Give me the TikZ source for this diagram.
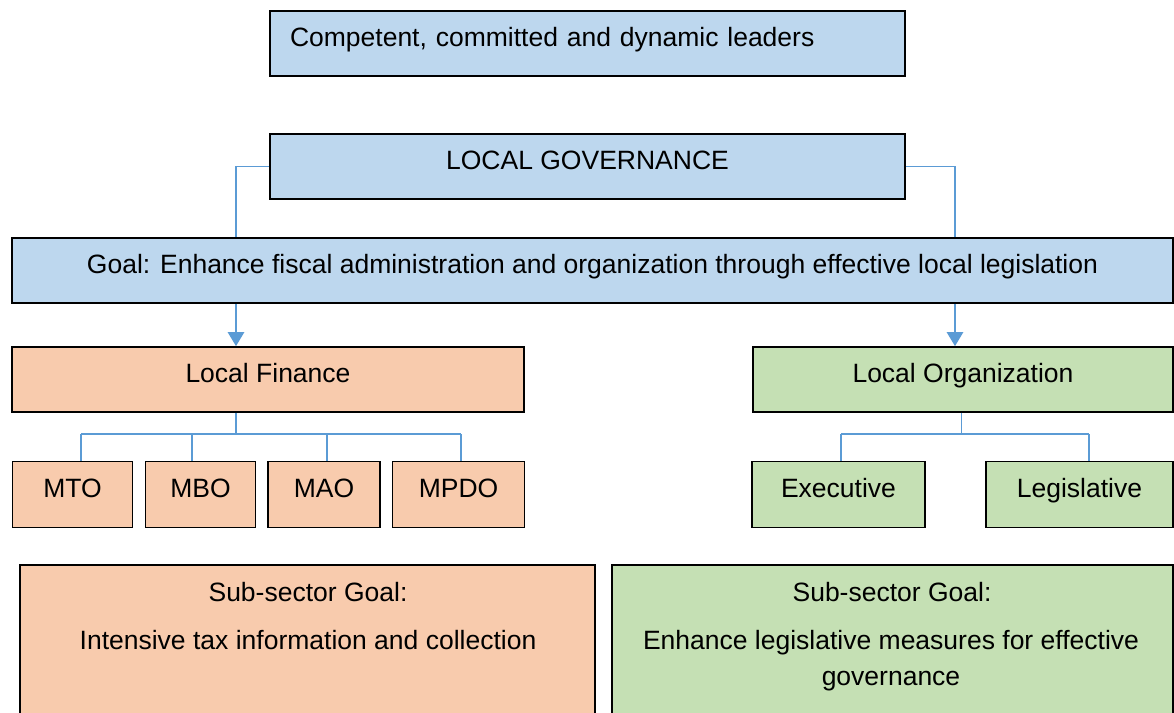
\documentclass[tikz,border=0pt]{standalone}
\usepackage{fontspec}
\setmainfont{Liberation Sans}
\usetikzlibrary{arrows.meta}
\definecolor{bluefill}{HTML}{BDD7EE}
\definecolor{orangefill}{HTML}{F8CBAD}
\definecolor{greenfill}{HTML}{C5E0B4}
\definecolor{linkblue}{HTML}{5B9BD5}
\begin{document}
\begin{tikzpicture}[x=1pt,y=-1pt,
  box/.style={draw=black, line width=1.6pt, inner sep=0pt, text height=0.7em, text depth=0.2em, font=\fontsize{26.5}{31}\selectfont},
  bbox/.style={box, fill=bluefill},
  obox/.style={box, fill=orangefill},
  gbox/.style={box, fill=greenfill},
  txt/.style={inner sep=0pt, text height=0.7em, text depth=0.2em, font=\fontsize{26.5}{36}\selectfont, align=center},
  link/.style={draw=linkblue, line width=1.3pt},
  arr/.style={draw=linkblue, line width=2.6pt, -{Triangle[width=16pt,length=14pt]}}]
\useasboundingbox (0,0) rectangle (1174,712);
% top row
\node[bbox, minimum width=635pt, minimum height=65pt, text width=595pt, inner xsep=20pt, align=left] (lead) at (587.5,43.5) {Competent, committed and dynamic leaders};
\node[bbox, minimum width=635pt, minimum height=65pt] (lg) at (587.5,166.5) {LOCAL GOVERNANCE};
\node[bbox, minimum width=1161pt, minimum height=65pt] (goal) at (592.5,270.5) {Goal: Enhance fiscal administration and organization through effective local legislation};
% second level
\node[obox, minimum width=512pt, minimum height=65pt] (lf) at (268,379.5) {Local Finance};
\node[gbox, minimum width=420pt, minimum height=65pt] (lo) at (963,379.5) {Local Organization};
% offices
\node[obox, minimum width=120pt, minimum height=66pt] (mto) at (72.5,494.5) {MTO};
\node[obox, minimum width=110pt, minimum height=66pt] (mbo) at (200.5,494.5) {MBO};
\node[obox, minimum width=112pt, minimum height=66pt] (mao) at (324,494.5) {MAO};
\node[obox, minimum width=132pt, minimum height=66pt] (mpdo) at (458.5,494.5) {MPDO};
\node[gbox, minimum width=173pt, minimum height=66pt] (exe) at (838.5,494.5) {Executive};
\node[gbox, minimum width=187pt, minimum height=66pt] (leg) at (1079.5,494.5) {Legislative};
% sub-sector goals
\node[obox, minimum width=575pt, minimum height=160pt] (lsub) at (307.5,645) {};
\node[gbox, minimum width=561pt, minimum height=160pt] (rsub) at (892.5,645) {};
\node[txt] (lsubh) at (308,599) {Sub-sector Goal:};
\node[txt] (lsubt) at (308,647) {Intensive tax information and collection};
\node[txt] (rsubh) at (892,599) {Sub-sector Goal:};
\node[inner sep=0pt, font=\fontsize{26.5}{36}\selectfont, align=center] (rsubt) at (891,661) {Enhance legislative measures for effective\\governance};
% connectors
\coordinate (gl) at (236,0);
\coordinate (gr) at (955,0);
\draw[link] (lg.west) -| (gl |- goal.north);
\draw[link] (lg.east) -| (gr |- goal.north);
\draw[arr] (gl |- goal.south) -- (gl |- lf.north);
\draw[arr] (gr |- goal.south) -- (gr |- lo.north);
% finance branches
\coordinate (fb) at (236,434);
\coordinate (f1) at (81,434);
\coordinate (f2) at (192,434);
\coordinate (f3) at (327,434);
\coordinate (f4) at (461,434);
\draw[link] (fb |- lf.south) -- (fb);
\draw[link] (f1) -- (f4);
\draw[link] (f1) -- (f1 |- mto.north);
\draw[link] (f2) -- (f2 |- mbo.north);
\draw[link] (f3) -- (f3 |- mao.north);
\draw[link] (f4) -- (f4 |- mpdo.north);
% organization branches
\coordinate (ob) at (961.5,434);
\coordinate (o1) at (841,434);
\coordinate (o2) at (1089,434);
\draw[link] (ob |- lo.south) -- (ob);
\draw[link] (o1) -- (o2);
\draw[link] (o1) -- (o1 |- exe.north);
\draw[link] (o2) -- (o2 |- leg.north);
\end{tikzpicture}
\end{document}
